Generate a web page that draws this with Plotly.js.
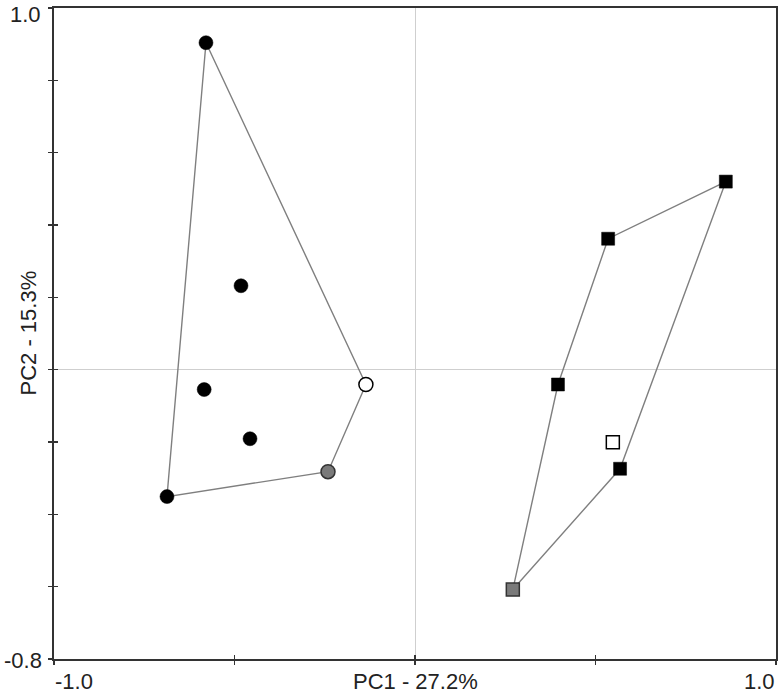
<!DOCTYPE html>
<html>
<head>
<meta charset="utf-8">
<script src="https://cdn.plot.ly/plotly-3.0.1.min.js"></script>
<style>html,body{margin:0;padding:0;background:#fff;}#chart{width:779px;height:695px;}</style>
</head>
<body>
<div id="chart"></div>
<script>
// Group 1 (circles)
const circleX = [-0.579, -0.482, -0.584, -0.457, -0.687, -0.241, -0.136];
const circleY = [0.904, 0.232, -0.055, -0.191, -0.351, -0.282, -0.041];
const circleKind = ['filled', 'filled', 'filled', 'filled', 'filled', 'grey', 'open'];
const circleHull = [0, 6, 5, 4, 0];

// Group 2 (squares)
const squareX = [0.861, 0.535, 0.396, 0.548, 0.568, 0.271];
const squareY = [0.520, 0.362, -0.041, -0.201, -0.274, -0.608];
const squareKind = ['filled', 'filled', 'filled', 'open', 'filled', 'grey'];
const squareHull = [0, 1, 2, 5, 4, 0];

// Axis labels
const xTitle = 'PC1 - 27.2%';
const yTitle = 'PC2 - 15.3%';
const xRange = [-1.0, 1.0];
const yRange = [-0.8, 1.0];
const xTickLabels = ['-1.0', '1.0'];
const yTickLabels = ['-0.8', '1.0'];

const fillOf = {filled: '#000000', grey: '#7a7a7a', open: '#ffffff'};
const lineOf = {filled: '#000000', grey: '#333333', open: '#000000'};

function hullTrace(xs, ys, idx) {
  return {
    x: idx.map(i => xs[i]), y: idx.map(i => ys[i]),
    mode: 'lines', type: 'scatter', hoverinfo: 'skip',
    line: {color: '#7f7f7f', width: 1.4}, showlegend: false
  };
}
function markerTraces(xs, ys, kinds, symbol, size) {
  const out = [];
  ['filled', 'grey', 'open'].forEach(k => {
    const idx = kinds.map((v, i) => v === k ? i : -1).filter(i => i >= 0);
    if (!idx.length) return;
    out.push({
      x: idx.map(i => xs[i]), y: idx.map(i => ys[i]),
      mode: 'markers', type: 'scatter', showlegend: false,
      marker: {symbol: symbol, size: size, color: fillOf[k],
               line: {color: lineOf[k], width: k === 'filled' ? 0.5 : 1.5}}
    });
  });
  return out;
}

const data = [
  hullTrace(circleX, circleY, circleHull),
  hullTrace(squareX, squareY, squareHull),
  ...markerTraces(circleX, circleY, circleKind, 'circle', 14),
  ...markerTraces(squareX, squareY, squareKind, 'square', 13)
];

const font = {family: 'Arial, Liberation Sans, sans-serif', color: '#222'};
const axBase = {
  showgrid: false, showline: true, linecolor: '#333333', linewidth: 2,
  ticks: 'outside', ticklen: 4, tickwidth: 1.5, tickcolor: '#333333',
  showticklabels: false, zeroline: false
};
const FS = 22;

const layout = {
  width: 779, height: 695,
  margin: {l: 54, r: 3, t: 8, b: 36},
  paper_bgcolor: '#fff', plot_bgcolor: '#fff',
  showlegend: false,
  font: font,
  xaxis: Object.assign({}, axBase, {range: xRange, dtick: 0.5, tick0: -1, mirror: true,
    zeroline: true, zerolinecolor: '#cfcfcf', zerolinewidth: 1}),
  yaxis: Object.assign({}, axBase, {range: yRange, dtick: 0.2, tick0: -0.8, mirror: true,
    zeroline: true, zerolinecolor: '#cfcfcf', zerolinewidth: 1}),
  xaxis2: Object.assign({}, axBase, {range: xRange, dtick: 0.5, tick0: -1, overlaying: 'x',
    anchor: 'y', side: 'bottom', ticks: 'inside', showline: false}),
  yaxis2: Object.assign({}, axBase, {range: yRange, dtick: 0.2, tick0: -0.8, overlaying: 'y',
    anchor: 'x', side: 'left', ticks: 'inside', showline: false}),
  annotations: [
    {xref: 'paper', yref: 'paper', x: 0.5, y: 0, yshift: -22, text: xTitle, showarrow: false,
     xanchor: 'center', yanchor: 'middle', borderpad: 0, font: {size: FS, color: '#222'}},
    {xref: 'paper', yref: 'paper', x: 0, y: 0.5, xshift: -26, text: yTitle, showarrow: false,
     textangle: -90, xanchor: 'center', yanchor: 'middle', font: {size: FS, color: '#222'}},
    {xref: 'x', yref: 'paper', x: xRange[0], y: 0, yshift: -22, text: xTickLabels[0], showarrow: false,
     xanchor: 'left', yanchor: 'middle', borderpad: 0, font: {size: FS, color: '#222'}},
    {xref: 'x', yref: 'paper', x: xRange[1], y: 0, yshift: -22, text: xTickLabels[1], showarrow: false,
     xanchor: 'right', yanchor: 'middle', borderpad: 0, font: {size: FS, color: '#222'}},
    {xref: 'paper', yref: 'y', x: 0, xshift: -10, y: yRange[0], yshift: -1, text: yTickLabels[0], showarrow: false,
     xanchor: 'right', yanchor: 'middle', font: {size: FS, color: '#222'}},
    {xref: 'paper', yref: 'y', x: 0, xshift: -12, y: yRange[1], yshift: -6, text: yTickLabels[1], showarrow: false,
     xanchor: 'right', yanchor: 'middle', borderpad: 0, font: {size: FS, color: '#222'}}
  ]
};

// invisible trace so the overlay axes (inner tick halves) are drawn
data.push({x: [0], y: [0], xaxis: 'x2', yaxis: 'y2', mode: 'markers', type: 'scatter',
  marker: {opacity: 0}, hoverinfo: 'skip', showlegend: false});

Plotly.newPlot('chart', data, layout, {displayModeBar: false, staticPlot: true});
</script>
</body>
</html>
